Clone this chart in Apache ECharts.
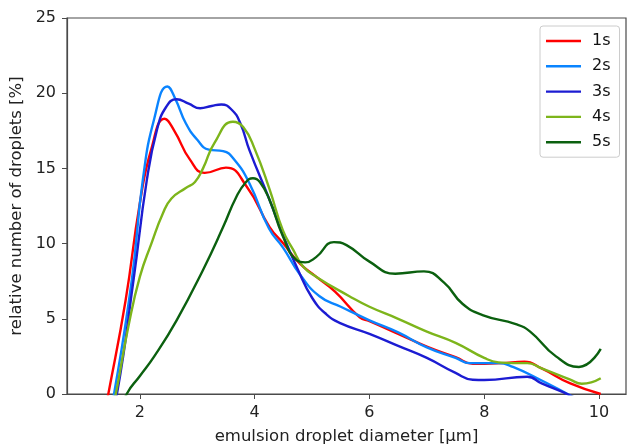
<!DOCTYPE html>
<html>
<head>
<meta charset="utf-8">
<script src="https://cdn.jsdelivr.net/npm/echarts@6/dist/echarts.min.js"></script>
<style>
html,body{margin:0;padding:0;background:#fff;}
#chart{width:627px;height:445px;}
</style>
</head>
<body>
<div id="chart"></div>
<script>
// Series names and colours
const seriesNames = ['1s','2s','3s','4s','5s'];
const colors = ['#ff0000','#0a84ff','#1c1cd2','#7db51b','#0b600f'];
// Tick labels
const xTicks = [2,4,6,8,10];
const yTicks = [0,5,10,15,20,25];

// 1s: diameter [µm] and relative number [%]
const x1 = [1.25,1.45,1.75,2.0,2.2,2.43,2.6,2.87,3.13,3.5,3.86,4.26,4.5,4.78,5.07,5.4,5.83,6.0,6.5,7.0,7.5,7.8,8.3,8.7,9.0,9.5,10.03];
const y1 = [-4.0,0.0,6.2,12.7,16.3,18.3,17.5,15.6,14.7,15.05,13.8,11.1,10.0,8.7,7.8,6.8,5.1,4.85,4.0,3.15,2.45,2.0,2.05,2.15,1.7,0.7,0.0];
// 2s
const x2 = [1.3,1.55,1.86,2.05,2.25,2.48,2.62,2.8,3.0,3.2,3.45,3.65,3.91,4.25,4.5,4.78,5.13,5.5,6.0,6.5,7.0,7.5,7.75,8.25,8.5,9.0,9.5,9.8];
const y2 = [-5.0,0.0,7.6,14.2,18.3,20.45,19.6,18.0,16.9,16.25,16.15,15.56,14.0,11.0,9.7,8.0,6.5,5.8,4.9,4.1,3.1,2.4,2.05,2.05,1.8,0.9,-0.1,-0.8];
// 3s
const x3 = [1.3,1.6,1.89,2.12,2.3,2.46,2.64,2.85,3.05,3.25,3.42,3.6,3.75,3.91,4.26,4.5,4.75,5.0,5.25,5.5,6.0,6.5,7.0,7.5,7.8,8.0,8.75,9.0,9.5,9.8];
const y3 = [-5.0,0.0,7.6,14.2,17.6,19.1,19.6,19.3,19.0,19.15,19.25,18.9,18.0,16.2,12.9,10.5,8.3,6.4,5.3,4.7,4.0,3.2,2.4,1.4,0.95,0.93,1.15,0.7,-0.1,-0.7];
// 4s
const x4 = [1.3,1.58,1.8,2.0,2.2,2.4,2.55,2.8,2.96,3.1,3.3,3.62,3.8,4.0,4.26,4.49,4.67,4.84,5.07,5.65,6.0,6.5,7.0,7.5,8.0,8.25,8.5,8.75,9.0,9.5,9.7,10.03];
const y4 = [-5.0,0.0,4.5,7.8,10.0,12.0,13.0,13.7,14.1,15.0,16.7,18.1,17.75,16.3,13.6,10.9,9.6,8.5,7.8,6.5,5.8,5.0,4.15,3.4,2.4,2.1,2.05,2.05,1.7,0.95,0.68,1.05];
// 5s
const x5 = [1.5,1.77,2.0,2.25,2.64,3.1,3.45,3.68,3.85,3.97,4.09,4.26,4.49,4.73,4.88,5.07,5.38,5.6,6.0,6.45,6.95,7.3,7.62,7.97,8.55,8.8,9.25,9.65,10.03];
const y5 = [-2.5,0.0,1.2,2.5,4.9,8.25,11.1,13.1,14.1,14.35,14.1,12.9,10.5,8.9,8.75,9.1,10.1,9.9,8.8,8.0,8.15,7.4,6.0,5.25,4.65,4.15,2.5,1.8,3.0];

const xs = [x1,x2,x3,x4,x5];
const ys = [y1,y2,y3,y4,y5];
const FONT = 'DejaVu Sans';
const chart = echarts.init(document.getElementById('chart'), null, {renderer:'canvas'});
chart.setOption({
  animation:false,
  backgroundColor:'#fff',
  textStyle:{fontFamily:FONT},
  grid:{left:67,right:1,top:18,bottom:51,outerBoundsMode:'none',containLabel:false,show:true,borderColor:'#4a4a4a',borderWidth:1.2,backgroundColor:'transparent'},
  legend:{
    orient:'vertical', left:540, top:26,
    icon:'rect',
    itemWidth:35, itemHeight:2.4, itemGap:9.3,
    padding:[7,9,7,6],
    borderColor:'#ccc', borderWidth:1, borderRadius:3,
    backgroundColor:'rgba(255,255,255,0.85)',
    textStyle:{fontSize:16,lineHeight:14,color:'#111',fontFamily:FONT,padding:[0,0,0,6]},
    data:seriesNames
  },
  xAxis:{
    type:'value', min:0.73, max:10.47,
    name:'emulsion droplet diameter [µm]', nameLocation:'middle', nameGap:34,
    nameTextStyle:{fontSize:16.5,color:'#222',fontFamily:FONT},
    axisLine:{show:true,onZero:false,lineStyle:{color:'#4a4a4a',width:1.2}},
    axisTick:{show:true,length:5,customValues:xTicks,lineStyle:{color:'#4a4a4a'}},
    axisLabel:{fontSize:16,color:'#222',margin:11,customValues:xTicks,fontFamily:FONT},
    splitLine:{show:false}
  },
  yAxis:{
    type:'value', min:yTicks[0], max:yTicks[yTicks.length-1], interval:5,
    name:'relative number of droplets [%]', nameLocation:'middle', nameGap:41,
    nameTextStyle:{fontSize:16.5,color:'#222',fontFamily:FONT},
    axisLine:{show:true,lineStyle:{color:'#4a4a4a',width:1.2}},
    axisTick:{show:true,length:5,lineStyle:{color:'#4a4a4a'}},
    axisLabel:{fontSize:16,color:'#222',margin:11,fontFamily:FONT},
    splitLine:{show:false}
  },
  series: seriesNames.map((n,i)=>({
    name:n, type:'line', smooth:0.5, symbol:'none', clip:true,
    lineStyle:{width:2.4,color:colors[i]}, itemStyle:{color:colors[i]},
    data: xs[i].map((d,j)=> [d, ys[i][j]])
  }))
});
</script>
</body>
</html>
